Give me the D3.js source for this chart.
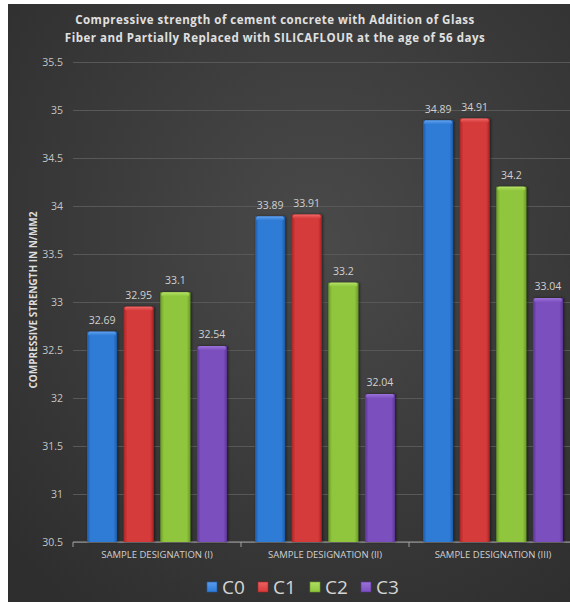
<!DOCTYPE html>
<html>
<head>
<meta charset="utf-8">
<script src="https://cdn.jsdelivr.net/npm/d3@7"></script>
<style>
  html, body { margin: 0; padding: 0; background: #ffffff; }
  svg { display: block; }
  text { font-family: "Open Sans", "Noto Sans", sans-serif; }
</style>
</head>
<body>
<svg id="chart" width="570" height="602"></svg>
<script>
// Compressive strength (N/mm2) at 56 days, per sample designation and mix
const groups = ["SAMPLE DESIGNATION (I)", "SAMPLE DESIGNATION (II)", "SAMPLE DESIGNATION (III)"];
const seriesNames = ["C0", "C1", "C2", "C3"];
const C0 = [32.69, 33.89, 34.89];
const C1 = [32.95, 33.91, 34.91];
const C2 = [33.1, 33.2, 34.2];
const C3 = [32.54, 32.04, 33.04];
const yTicks = [30.5, 31, 31.5, 32, 32.5, 33, 33.5, 34, 34.5, 35, 35.5];
const titleLines = [
  "Compressive strength of cement concrete with Addition of Glass",
  "Fiber and Partially Replaced with SILICAFLOUR at the age of 56 days"
];
const yTitle = "COMPRESSIVE STRENGTH IN N/MM2";

const seriesValues = [C0, C1, C2, C3];
const colors = {
  C0: { base: "#2f7bd6", light: "#5a9cec", dark: "#1d5aa6" },
  C1: { base: "#d63a3a", light: "#ec6262", dark: "#a82424" },
  C2: { base: "#8fc63c", light: "#b0de62", dark: "#6a9a26" },
  C3: { base: "#7c4fbf", light: "#9a72d8", dark: "#5a3494" }
};

const svg = d3.select("#chart");
const W = 570, H = 602;
const defs = svg.append("defs");

// chart area background
const bg = defs.append("radialGradient").attr("id", "bg")
  .attr("cx", "55%").attr("cy", "40%").attr("r", "75%");
bg.append("stop").attr("offset", "0%").attr("stop-color", "#4a4a4a");
bg.append("stop").attr("offset", "100%").attr("stop-color", "#2e2e2e");
svg.append("rect").attr("x", 8).attr("y", 4).attr("width", W - 8).attr("height", H - 4)
  .attr("fill", "url(#bg)");

// bar gradients: shaded edges, bright centre
seriesNames.forEach(s => {
  const c = colors[s];
  const g = defs.append("linearGradient").attr("id", "g" + s)
    .attr("x1", "0%").attr("x2", "100%").attr("y1", "0%").attr("y2", "0%");
  g.append("stop").attr("offset", "0%").attr("stop-color", c.dark);
  g.append("stop").attr("offset", "12%").attr("stop-color", c.base);
  g.append("stop").attr("offset", "50%").attr("stop-color", c.base);
  g.append("stop").attr("offset", "88%").attr("stop-color", c.base);
  g.append("stop").attr("offset", "100%").attr("stop-color", c.dark);
  const t = defs.append("linearGradient").attr("id", "t" + s)
    .attr("x1", "0%").attr("x2", "0%").attr("y1", "0%").attr("y2", "100%");
  t.append("stop").attr("offset", "0%").attr("stop-color", c.light);
  t.append("stop").attr("offset", "100%").attr("stop-color", c.base);
});

const shadow = defs.append("filter").attr("id", "shadow")
  .attr("x", "-30%").attr("y", "-10%").attr("width", "160%").attr("height", "120%");
shadow.append("feGaussianBlur").attr("in", "SourceAlpha").attr("stdDeviation", 1.5).attr("result", "b");
shadow.append("feOffset").attr("in", "b").attr("dx", 1).attr("dy", 0).attr("result", "o");
shadow.append("feComponentTransfer").attr("in", "o").attr("result", "s")
  .append("feFuncA").attr("type", "linear").attr("slope", 0.6);
const fm = shadow.append("feMerge");
fm.append("feMergeNode").attr("in", "s");
fm.append("feMergeNode").attr("in", "SourceGraphic");

// scales
const plotLeft = 73, plotTop = 62, plotBottom = 542;
const x0 = d3.scaleBand().domain(groups).range([plotLeft, plotLeft + 3 * 168]).padding(0);
const x1 = d3.scaleBand().domain(seriesNames).range([14, 154]).paddingInner(0.18).paddingOuter(0);
const y = d3.scaleLinear().domain([30.5, 35.5]).range([plotBottom, plotTop]);

// gridlines and y labels
const yAxis = d3.axisLeft(y).tickValues(yTicks).tickFormat(d3.format("~g"))
  .tickSize(-(W - plotLeft)).tickPadding(10);
const gy = svg.append("g").attr("transform", `translate(${plotLeft},0)`).call(yAxis);
gy.select(".domain").remove();
gy.selectAll(".tick line").attr("stroke", "#585858").attr("stroke-width", 1);
gy.selectAll(".tick text").attr("fill", "#c4c4c4").attr("font-size", 10.5)
  .attr("font-family", "'Open Sans', sans-serif").attr("x", -10);

// x axis
const xAxis = d3.axisBottom(x0).tickSize(0).tickPadding(9);
const gx = svg.append("g").attr("transform", `translate(0,${plotBottom})`).call(xAxis);
gx.select(".domain").attr("stroke", "#a0a0a0").attr("d", `M${plotLeft},5V0H${W}`);
gx.selectAll(".tick text").attr("fill", "#cfcfcf").attr("font-size", 9.5)
  .attr("font-family", "'Open Sans', sans-serif");
// category separators
gx.selectAll("line.sep").data(groups.slice(1)).join("line").attr("class", "sep")
  .attr("x1", d => x0(d)).attr("x2", d => x0(d)).attr("y1", 0).attr("y2", 5)
  .attr("stroke", "#a0a0a0");

// bars
const rows = [];
groups.forEach((g, gi) => seriesNames.forEach((s, si) => rows.push({ g, s, v: seriesValues[si][gi] })));

const bars = svg.append("g").selectAll("g.bar").data(rows).join("g").attr("class", "bar")
  .attr("transform", d => `translate(${x0(d.g) + x1(d.s)},0)`);
bars.append("rect")
  .attr("x", 0).attr("width", x1.bandwidth())
  .attr("y", d => y(d.v)).attr("height", d => plotBottom - y(d.v))
  .attr("fill", d => `url(#g${d.s})`).attr("filter", "url(#shadow)");
// bevelled top cap
bars.append("rect")
  .attr("x", 1).attr("width", x1.bandwidth() - 2)
  .attr("y", d => y(d.v)).attr("height", 4).attr("rx", 2)
  .attr("fill", d => `url(#t${d.s})`);
bars.append("line")
  .attr("x1", 2).attr("x2", x1.bandwidth() - 2)
  .attr("y1", d => y(d.v) + 0.5).attr("y2", d => y(d.v) + 0.5)
  .attr("stroke", d => colors[d.s].light).attr("stroke-opacity", 0.9);

// value labels
bars.append("text")
  .attr("x", x1.bandwidth() / 2).attr("y", d => y(d.v) - 8)
  .attr("text-anchor", "middle").attr("fill", "#d0d0d0").attr("font-size", 10.5)
  .text(d => d3.format("~g")(d.v));

// title
svg.append("g").selectAll("text").data(titleLines).join("text")
  .attr("x", 275).attr("y", (d, i) => 24 + i * 18)
  .attr("text-anchor", "middle").attr("fill", "#e0e0e0")
  .attr("font-size", 11.5).attr("font-weight", "bold").attr("letter-spacing", 0.5)
  .text(d => d);

// y axis title
svg.append("text")
  .attr("transform", "translate(37,300) rotate(-90)")
  .attr("text-anchor", "middle").attr("fill", "#dcdcdc")
  .attr("font-size", 10).attr("font-weight", "bold")
  .text(yTitle);

// legend
const legendX = [207, 258, 310, 361];
const leg = svg.append("g").selectAll("g").data(seriesNames).join("g")
  .attr("transform", (d, i) => `translate(${legendX[i]},587)`);
leg.append("rect").attr("x", 0).attr("y", -5).attr("width", 10).attr("height", 10)
  .attr("fill", d => `url(#t${d})`).attr("stroke", d => colors[d].dark).attr("stroke-width", 0.6);
leg.append("text").attr("x", 15).attr("y", 7).attr("fill", "#d4d4d4")
  .attr("font-size", 19).attr("font-family", "'Liberation Sans', sans-serif")
  .text(d => d);
</script>
</body>
</html>
